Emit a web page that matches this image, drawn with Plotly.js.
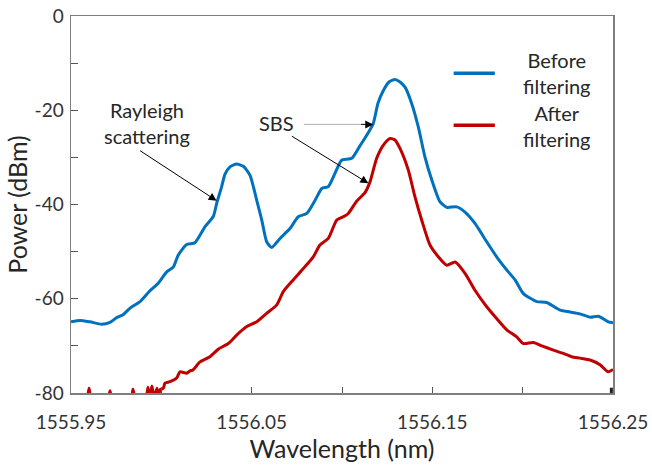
<!DOCTYPE html>
<html>
<head>
<meta charset="utf-8">
<script src="https://cdn.plot.ly/plotly-3.0.1.min.js"></script>
<style>html,body{margin:0;padding:0;background:#fff;}#chart{width:652px;height:465px;}</style>
</head>
<body>
<div id="chart"></div>
<script>
// Wavelength (nm) and power (dBm)
const beforeWavelength = [1555.950,1555.955,1555.9605,1555.967,1555.9716,1555.9753,1555.9788,1555.9827,1555.9882,1555.9937,1555.9983,1556.0030,1556.0066,1556.0094,1556.0140,1556.0186,1556.0242,1556.0288,1556.0306,1556.0334,1556.0352,1556.0380,1556.0417,1556.0454,1556.0491,1556.0528,1556.0556,1556.0583,1556.0611,1556.0657,1556.0712,1556.0758,1556.0805,1556.0851,1556.0888,1556.0924,1556.0961,1556.0998,1556.1054,1556.1100,1556.1137,1556.1173,1556.1199,1556.1229,1556.1260,1556.1293,1556.1321,1556.1349,1556.1386,1556.1422,1556.1459,1556.1497,1556.1542,1556.1580,1556.1635,1556.1681,1556.1736,1556.1801,1556.1856,1556.1912,1556.1958,1556.2004,1556.2078,1556.2133,1556.2207,1556.2262,1556.2317,1556.2373,1556.2419,1556.2474,1556.2500];
const beforePower = [-64.9,-64.6,-64.9,-65.4,-65.0,-64.0,-63.4,-62.0,-60.6,-58.3,-56.7,-54.3,-53.3,-50.7,-48.5,-48.1,-44.7,-42.5,-39.8,-36.2,-33.6,-32.0,-31.4,-31.9,-33.8,-39.1,-43.3,-47.9,-49.1,-47.2,-45.1,-42.6,-41.9,-39.1,-36.6,-36.2,-33.4,-30.6,-30.2,-27.5,-25.3,-22.8,-18.5,-15.8,-14.0,-13.5,-14.0,-15.1,-18.6,-23.5,-29.9,-34.8,-39.4,-40.6,-40.5,-41.6,-44.0,-47.9,-51.1,-53.9,-56.0,-58.9,-60.6,-60.8,-62.4,-62.8,-63.2,-63.9,-63.7,-64.9,-65.1];

const afterWavelength = [1555.950,1555.955,1555.9585,1555.9600,1555.9615,1555.970,1555.9716,1555.9730,1555.983,1555.9843,1555.9860,1555.991,1555.9926,1555.9935,1555.9948,1555.9960,1555.9976,1555.9985,1555.9993,1556.0011,1556.0020,1556.0048,1556.0085,1556.0103,1556.0140,1556.0159,1556.0175,1556.0214,1556.0269,1556.0315,1556.0371,1556.0417,1556.0473,1556.0528,1556.0583,1556.0639,1556.0675,1556.0730,1556.0786,1556.0841,1556.0878,1556.0924,1556.0971,1556.1007,1556.1035,1556.1081,1556.1127,1556.1155,1556.1192,1556.1229,1556.1266,1556.1293,1556.1321,1556.1367,1556.1404,1556.1441,1556.1487,1556.1533,1556.1580,1556.1626,1556.1681,1556.1736,1556.1801,1556.1856,1556.1912,1556.1967,1556.2004,1556.2059,1556.2106,1556.2170,1556.2225,1556.2271,1556.2317,1556.2373,1556.2428,1556.2472,1556.2500];
const afterPower = [-82,-82,-82,-79.0,-82,-82,-79.5,-82,-82,-79.2,-82,-82,-78.8,-81,-78.5,-81,-79.0,-81,-79.3,-79.0,-77.9,-77.6,-76.8,-75.5,-75.8,-75.3,-75.1,-73.4,-72.3,-70.7,-69.5,-67.7,-65.9,-64.9,-63.1,-61.3,-58.5,-56.0,-53.6,-51.1,-48.6,-47.2,-43.3,-42.6,-41.9,-39.3,-37.5,-35.2,-30.2,-27.4,-26.0,-26.3,-28.1,-32.7,-38.4,-43.3,-48.6,-51.1,-52.9,-52.2,-54.6,-58.2,-61.7,-64.2,-66.6,-68.1,-69.5,-69.3,-70.0,-70.9,-71.6,-72.3,-72.6,-73.0,-74.0,-75.5,-75.0];

const seriesNames = ['Before<br>filtering', 'After<br>filtering'];
const seriesColors = ['#0072BD', '#C00000'];

const xTickVals = [1555.95, 1556.05, 1556.15, 1556.25];
const xTickText = ['1555.95', '1556.05', '1556.15', '1556.25'];
const yTickVals = [-80, -60, -40, -20, 0];
const yTickText = ['-80', '-60', '-40', '-20', '0'];

const FONT = 'Lato, "Open Sans", sans-serif';

const traces = [
  {x: beforeWavelength, y: beforePower, name: 'Before filtering', mode: 'lines', line: {color: seriesColors[0], width: 3, shape: 'spline', smoothing: 0.6}, showlegend: false},
  {x: afterWavelength, y: afterPower, name: 'After filtering', mode: 'lines', line: {color: seriesColors[1], width: 3, shape: 'spline', smoothing: 0.6}, showlegend: false}
];

const layout = {
  width: 652, height: 465,
  margin: {l: 71, r: 39, t: 16, b: 72},
  paper_bgcolor: '#fff', plot_bgcolor: '#fff',
  font: {family: FONT, color: '#333', size: 19},
  xaxis: {
    range: [1555.95, 1556.25], tickmode: 'array', tickvals: xTickVals, ticktext: xTickText,
    ticks: 'inside', ticklen: 6, tickcolor: '#555', tickwidth: 1,
    minor: {tick0: 1555.95, dtick: 0.05, ticks: 'inside', ticklen: 6, tickcolor: '#555', tickwidth: 1},
    ticklabelstandoff: 12,
    showgrid: false, zeroline: false,
    showline: true, linecolor: '#7f7f7f', linewidth: 1.5, mirror: true,
    tickfont: {family: FONT, size: 19, color: '#333'},
    title: {text: 'Wavelength (nm)', font: {family: FONT, size: 25, color: '#262626'}, standoff: 6}
  },
  yaxis: {
    range: [-80, 0], tickmode: 'array', tickvals: yTickVals, ticktext: yTickText,
    ticks: 'inside', ticklen: 7, tickcolor: '#555', tickwidth: 1,
    minor: {tick0: 0, dtick: 10, ticks: 'inside', ticklen: 7, tickcolor: '#555', tickwidth: 1},
    ticklabelstandoff: 2,
    showgrid: false, zeroline: false,
    showline: true, linecolor: '#7f7f7f', linewidth: 1.5, mirror: true,
    tickfont: {family: FONT, size: 19, color: '#333'},
    title: {text: 'Power (dBm)', font: {family: FONT, size: 25, color: '#262626'}, standoff: 0}
  },
  shapes: [
    {type: 'line', xref: 'paper', yref: 'paper', x0: 0.706, x1: 0.782, y0: 0.848, y1: 0.848, line: {color: seriesColors[0], width: 3.5}},
    {type: 'line', xref: 'paper', yref: 'paper', x0: 0.706, x1: 0.782, y0: 0.710, y1: 0.710, line: {color: seriesColors[1], width: 3.5}},
    {type: 'line', xref: 'x', yref: 'y', x0: 1556.0789, x1: 1556.1100, y0: -23.0, y1: -23.0, line: {color: '#b0b0b0', width: 1}},
    {type: 'line', xref: 'paper', yref: 'paper', x0: 0.997, x1: 0.997, y0: 0.0, y1: 0.014, line: {color: '#222', width: 3}}
  ],
  annotations: [
    {xref: 'paper', yref: 'paper', x: 0.896, y: 0.850, xanchor: 'center', yanchor: 'middle', text: seriesNames[0], showarrow: false, font: {family: FONT, size: 20, color: '#262626'}, align: 'center'},
    {xref: 'paper', yref: 'paper', x: 0.896, y: 0.707, xanchor: 'center', yanchor: 'middle', text: seriesNames[1], showarrow: false, font: {family: FONT, size: 20, color: '#262626'}, align: 'center'},
    {x: 1555.992, y: -22.75, xanchor: 'center', yanchor: 'middle', text: 'Rayleigh<br>scattering', showarrow: false, font: {family: FONT, size: 20, color: '#262626'}, align: 'center'},
    {x: 1556.0639, y: -22.8, xanchor: 'center', yanchor: 'middle', text: 'SBS', showarrow: false, font: {family: FONT, size: 20, color: '#262626'}},
    {x: 1556.0306, y: -39.2, ax: -78, ay: -51, text: '', showarrow: true, arrowhead: 2, arrowsize: 1.6, arrowwidth: 1, arrowcolor: '#000'},
    {x: 1556.1173, y: -23.0, ax: -14, ay: 0, text: '', showarrow: true, arrowhead: 2, arrowsize: 1.6, arrowwidth: 1, arrowcolor: '#000'},
    {x: 1556.1146, y: -35.5, ax: -78, ay: -48, text: '', showarrow: true, arrowhead: 2, arrowsize: 1.6, arrowwidth: 1, arrowcolor: '#000'}
  ]
};

Plotly.newPlot('chart', traces, layout, {displayModeBar: false, staticPlot: true});
</script>
</body>
</html>
